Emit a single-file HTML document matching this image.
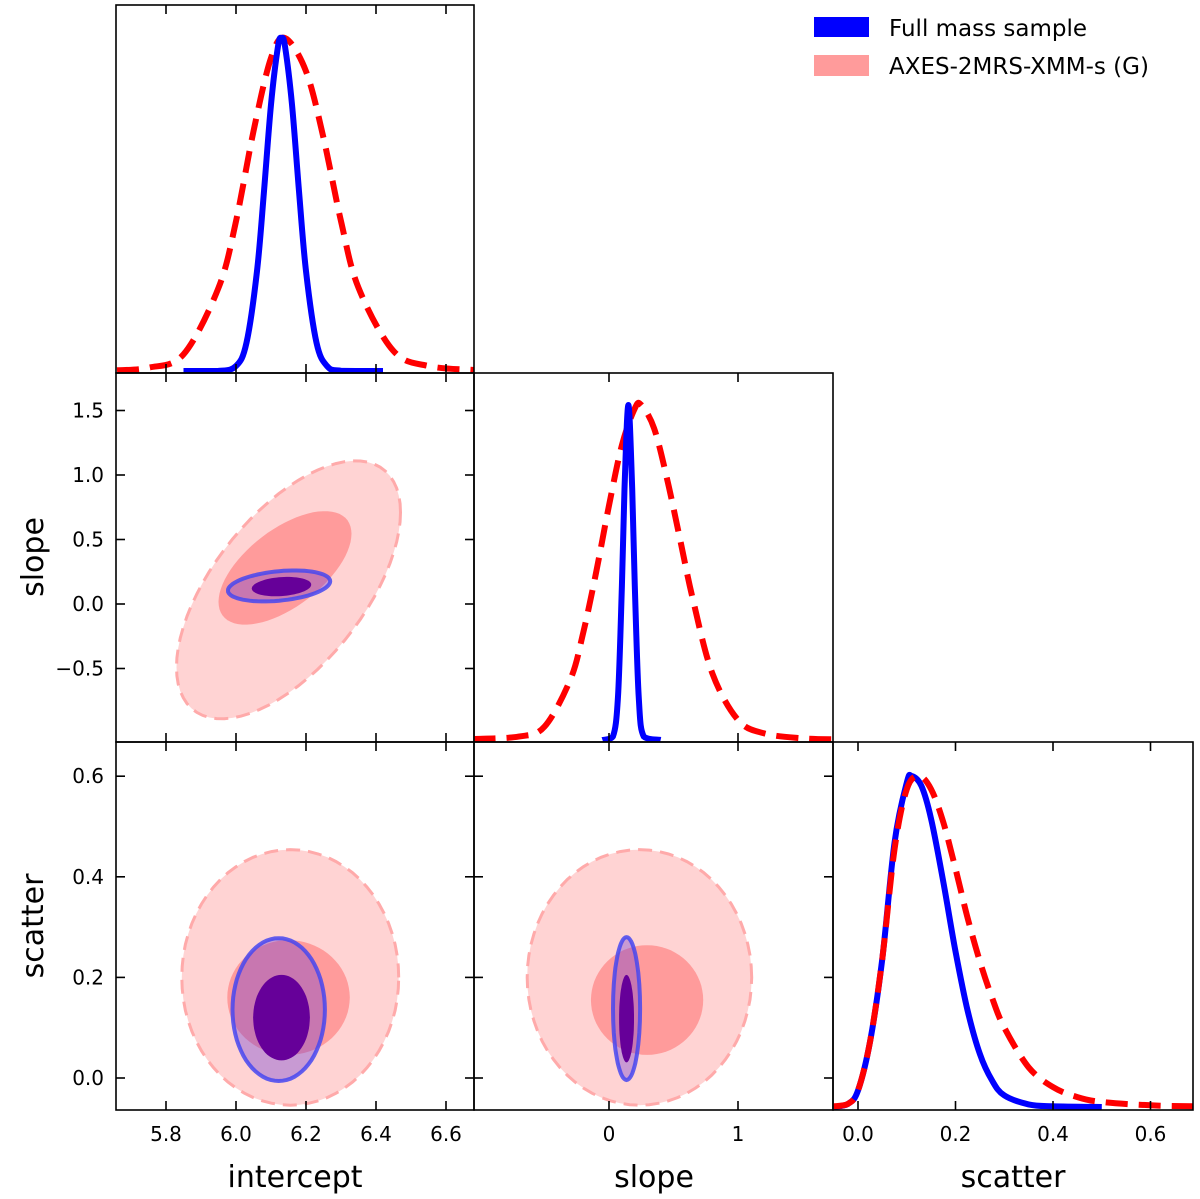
<!DOCTYPE html>
<html><head><meta charset="utf-8"><style>
body{margin:0;background:#fff;}
svg{display:block;font-family:"DejaVu Sans","Liberation Sans",sans-serif;}
</style></head><body>
<svg id="fig" width="1200" height="1199" viewBox="0 0 1200 1199"></svg>
<script>
// ---- data ----
const interceptTicks=[5.8,6.0,6.2,6.4,6.6];
const slopeXTicks=[0,1];
const slopeYTicks=[1.5,1.0,0.5,0.0,-0.5];
const scatterTicks=[0.0,0.2,0.4,0.6];
const intBlueX=[5.85,5.95,6.0,6.03,6.06,6.08,6.10,6.12,6.13,6.14,6.16,6.18,6.20,6.23,6.26,6.30,6.42];
const intBlueD=[0,0.0003,0.015,0.085,0.30,0.54,0.80,0.975,1,0.975,0.80,0.54,0.30,0.085,0.015,0.0008,0];
const intRedX=[5.66,5.75,5.85,5.95,6.0,6.05,6.1,6.14,6.2,6.25,6.3,6.35,6.45,6.55,6.68];
const intRedD=[0.002,0.01,0.05,0.25,0.45,0.72,0.94,1,0.9,0.7,0.45,0.25,0.06,0.015,0.003];
const slBlueX=[-0.05,0.03,0.07,0.10,0.12,0.15,0.18,0.20,0.23,0.27,0.4];
const slBlueD=[0,0.01,0.13,0.46,0.75,1,0.75,0.46,0.13,0.01,0];
const slRedX=[-1.05,-0.7,-0.5,-0.3,-0.2,-0.1,0.0,0.1,0.2,0.25,0.35,0.45,0.55,0.65,0.8,1.0,1.2,1.5,1.74];
const slRedD=[0.003,0.01,0.04,0.18,0.32,0.5,0.7,0.88,0.99,1,0.93,0.78,0.6,0.42,0.2,0.06,0.02,0.005,0.002];
const scBlueX=[-0.05,-0.02,0,0.025,0.05,0.075,0.1,0.11,0.13,0.15,0.175,0.2,0.225,0.25,0.275,0.3,0.35,0.4,0.5];
const scBlueD=[0,0.01,0.05,0.2,0.45,0.8,0.98,1,0.97,0.87,0.68,0.47,0.29,0.16,0.08,0.035,0.008,0.002,0];
const scRedX=[-0.05,-0.02,0,0.025,0.05,0.075,0.1,0.125,0.15,0.175,0.2,0.225,0.25,0.275,0.3,0.35,0.4,0.45,0.5,0.6,0.69];
const scRedD=[0.002,0.01,0.05,0.2,0.45,0.78,0.96,1,0.96,0.86,0.72,0.57,0.44,0.33,0.24,0.12,0.06,0.03,0.015,0.005,0.002];
// contours: [cx, cy, ax, ay, rho]
const isRedOuter=[6.15,0.11,0.32,1.0,0.6], isRedInner=[6.14,0.28,0.19,0.44,0.6];
const isBlueOuter=[6.123,0.14,0.146,0.12,0.3], isBlueInner=[6.13,0.135,0.085,0.075,0.2];
const iscRedOuter=[6.155,0.2,0.31,0.254,0], iscRedInner=[6.15,0.16,0.175,0.114,0];
const iscBlueOuter=[6.122,0.136,0.132,0.142,0], iscBlueInner=[6.13,0.12,0.081,0.085,0];
const sscRedOuter=[0.236,0.2,0.87,0.254,0], sscRedInner=[0.295,0.155,0.435,0.109,0];
const sscBlueOuter=[0.136,0.138,0.105,0.142,0], sscBlueInner=[0.136,0.118,0.058,0.087,0];

// ---- axes ----
const NS="http://www.w3.org/2000/svg";const svg=document.getElementById('fig');
function mk(t,a,p){const e=document.createElementNS(NS,t);for(const k in a)e.setAttribute(k,a[k]);(p||svg).appendChild(e);return e;}
const xI=v=>236+(v-6)*350, xS=v=>609+v*129, xC=v=>858+v*487.5;
const ySl=v=>604-v*129, ySc=v=>1078-v*503;
const cols=[[116,474],[474,833],[833,1193]], rows=[[5,373],[373,742],[742,1110]];
const fmt=v=>(v<0?'\u2212':'')+Math.abs(v).toFixed(1);

function frame(c,r,name){const [x0,x1]=cols[c],[y0,y1]=rows[r];
 const g=mk('g',{});  
 const cp=mk('clipPath',{id:'cp'+c+r},g); mk('rect',{x:x0,y:y0,width:x1-x0,height:y1-y0},cp);
 const inner=mk('g',{'clip-path':'url(#cp'+c+r+')'},g);
 return {g,inner,x0,x1,y0,y1};}
function finish(P,xt,xf,yt,yf){const g=P.g;
 mk('rect',{x:P.x0,y:P.y0,width:P.x1-P.x0,height:P.y1-P.y0,fill:'none',stroke:'#000','stroke-width':1.6},g);
 xt.forEach(v=>{const x=xf(v);mk('line',{x1:x,x2:x,y1:P.y1,y2:P.y1-9,stroke:'#000','stroke-width':1.6},g);mk('line',{x1:x,x2:x,y1:P.y0,y2:P.y0+9,stroke:'#000','stroke-width':1.6},g);});
 if(yt)yt.forEach(v=>{const y=yf(v);mk('line',{x1:P.x0,x2:P.x0+9,y1:y,y2:y,stroke:'#000','stroke-width':1.6},g);mk('line',{x1:P.x1,x2:P.x1-9,y1:y,y2:y,stroke:'#000','stroke-width':1.6},g);});}
function smooth(pts){let d='M'+pts[0][0].toFixed(1)+','+pts[0][1].toFixed(1);
 for(let i=0;i<pts.length-1;i++){const p0=pts[Math.max(0,i-1)],p1=pts[i],p2=pts[i+1],p3=pts[Math.min(pts.length-1,i+2)];
  const c1=[p1[0]+(p2[0]-p0[0])/6,p1[1]+(p2[1]-p0[1])/6],c2=[p2[0]-(p3[0]-p1[0])/6,p2[1]-(p3[1]-p1[1])/6];
  const base=Math.max(p1[1],p2[1]);c1[1]=Math.min(c1[1],base+0);c2[1]=Math.min(c2[1],base+0);
  d+='C'+c1[0].toFixed(1)+','+c1[1].toFixed(1)+' '+c2[0].toFixed(1)+','+c2[1].toFixed(1)+' '+p2[0].toFixed(1)+','+p2[1].toFixed(1);}
 return d;}
function curve(P,xs,ds,xf,base,h,color,dash,name){const pts=xs.map((x,i)=>[xf(x),base-ds[i]*h]);
 const p=mk('path',{d:smooth(pts),fill:'none',stroke:color,'stroke-width':6,'stroke-linejoin':'round','stroke-dasharray':dash||'none'},P.inner);
 }
function ell(P,e,xf,yf,fill,stroke,sw,dash,name){const [cx,cy,ax,ay,rho]=e;let d='';
 for(let i=0;i<=72;i++){const t=i/72*2*Math.PI;const u=Math.cos(t),w=Math.sin(t);
  const x=cx+ax*u, y=cy+ay*(rho*u+Math.sqrt(1-rho*rho)*w);d+=(i?'L':'M')+xf(x).toFixed(1)+','+yf(y).toFixed(1);}
 const p=mk('path',{d:d+'Z',fill,stroke:stroke||'none','stroke-width':sw||0,'stroke-dasharray':dash||'none'},P.inner);
 }
function contours(P,ro,ri,bo,bi,xf,yf,n){
 ell(P,ro,xf,yf,'#ffd3d3','#ffaaaa',3,'14,8',n+'-red-outer');
 ell(P,ri,xf,yf,'#ff9b9b',null,0,null,n+'-red-inner');
 ell(P,bo,xf,yf,'rgba(110,60,210,0.38)','rgba(70,70,240,0.85)',4,null,n+'-blue-outer');
 ell(P,bi,xf,yf,'#660099',null,0,null,n+'-blue-inner');}
function xlabels(xt,xf,lab,cx){xt.forEach(v=>{const t=mk('text',{x:xf(v),y:1141,'font-size':20,'text-anchor':'middle'});t.textContent=(xt===slopeXTicks)?String(v):fmt(v);});
 const t=mk('text',{x:cx,y:1187,'font-size':30,'text-anchor':'middle'});t.textContent=lab;}
function ylabels(yt,yf,lab,cy){yt.forEach(v=>{const t=mk('text',{x:104,y:yf(v)+7,'font-size':20,'text-anchor':'end'});t.textContent=fmt(v);});
 const t=mk('text',{x:0,y:0,'font-size':30,'text-anchor':'middle',transform:`translate(43,${cy}) rotate(-90)`});t.textContent=lab;}
const RD='22,11';
let P=frame(0,0,'intercept-marginal');
curve(P,intRedX,intRedD,xI,371,333,'#ff0000',RD,'intercept-red-curve');
curve(P,intBlueX,intBlueD,xI,371,333,'#0000ff',null,'intercept-blue-curve');
finish(P,interceptTicks,xI);
P=frame(0,1,'intercept-slope-panel');contours(P,isRedOuter,isRedInner,isBlueOuter,isBlueInner,xI,ySl,'is');finish(P,interceptTicks,xI,slopeYTicks,ySl);
P=frame(1,1,'slope-marginal');
curve(P,slRedX,slRedD,xS,740,335,'#ff0000',RD,'slope-red-curve');
curve(P,slBlueX,slBlueD,xS,740,335,'#0000ff',null,'slope-blue-curve');
finish(P,slopeXTicks,xS);
P=frame(0,2,'intercept-scatter-panel');contours(P,iscRedOuter,iscRedInner,iscBlueOuter,iscBlueInner,xI,ySc,'isc');finish(P,interceptTicks,xI,scatterTicks,ySc);
P=frame(1,2,'slope-scatter-panel');contours(P,sscRedOuter,sscRedInner,sscBlueOuter,sscBlueInner,xS,ySc,'ssc');finish(P,slopeXTicks,xS,scatterTicks,ySc);
P=frame(2,2,'scatter-marginal');
curve(P,scBlueX,scBlueD,xC,1107,331,'#0000ff',null,'scatter-blue-curve');
curve(P,scRedX,scRedD,xC,1107,331,'#ff0000',RD,'scatter-red-curve');
finish(P,scatterTicks,xC);
xlabels(interceptTicks,xI,'intercept',295);
xlabels(slopeXTicks,xS,'slope',654);
xlabels(scatterTicks,xC,'scatter',1013);
ylabels(slopeYTicks,ySl,'slope',557);
ylabels(scatterTicks,ySc,'scatter',926);
const lg=mk('g',{});
mk('rect',{x:814,y:17,width:55,height:20,fill:'#0000ff'},lg);
mk('rect',{x:814,y:55,width:55,height:21,fill:'#ff9b9b'},lg);
let t=mk('text',{x:889,y:36,'font-size':23},lg);t.textContent='Full mass sample';
t=mk('text',{x:889,y:74,'font-size':23},lg);t.textContent='AXES-2MRS-XMM-s (G)';
</script>
</body></html>
